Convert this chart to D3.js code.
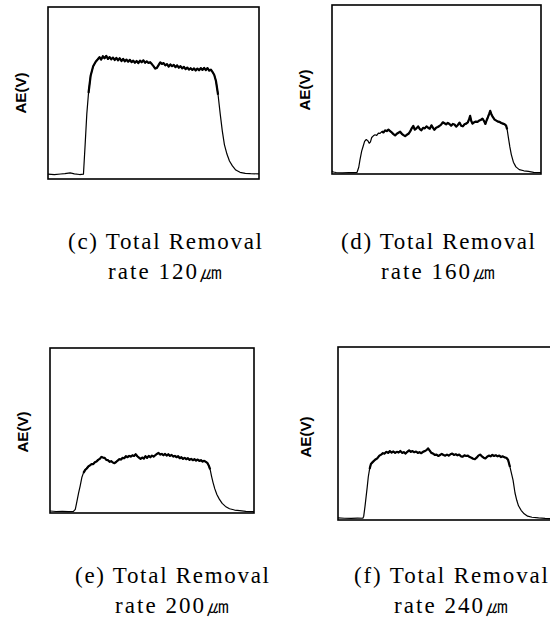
<!DOCTYPE html>
<html>
<head>
<meta charset="utf-8">
<script src="https://cdn.jsdelivr.net/npm/d3@7"></script>
<style>
  body { margin: 0; background: #fff; }
  svg { display: block; }
</style>
</head>
<body>
<div id="chart"></div>
<script>
// AE signal, x = time (0-100 across the frame), y = AE level (0-100 of frame height)
var C_120 = [[0,2.8],[3,2.5],[6,2.9],[8,3.1],[10.5,3.6],[12.5,3.0],[15,2.6],[16.8,2.8],
  [17.6,20],[18.4,38],[19.2,50],[20.2,60],[21.4,65.5],[22.6,68.2],[23.6,69.6],
  [24.4,70.8],[25.2,69.4],[26,71.4],[26.8,70.2],[27.6,71.6],[28.4,69.8],[29.2,70.9],[30,69.6],[30.8,70.6],
  [31.6,69.2],[32.4,70.4],[33.2,69.0],[34,70.2],[34.8,68.6],[35.6,69.8],[36.4,68.4],[37.2,69.4],[38,68.2],
  [38.8,69.3],[39.6,67.9],[40.4,68.8],[41.2,67.6],[42,68.6],[42.8,67.4],[43.6,68.8],[44.4,67.9],[45.2,69.0],
  [46,67.6],[46.8,68.4],[47.6,67.5],[48.4,67.9],[49.2,66.8],[50,65.6],[50.8,64.2],[51.6,64.6],[52.4,66.2],
  [53.2,67.8],[54,66.9],[54.8,67.4],[55.6,66.1],[56.4,66.8],[57.2,65.4],[58,66.6],[58.8,65.6],[59.6,66.3],
  [60.4,65.0],[61.2,66.1],[62,64.7],[62.8,65.6],[63.6,64.3],[64.4,65.2],[65.2,63.9],[66,64.8],[66.8,63.6],
  [67.6,64.4],[68.4,63.4],[69.2,64.3],[70,63.1],[70.8,64.2],[71.6,63.2],[72.4,64.5],[73.2,63.4],[74,64.6],
  [74.8,63.3],[75.6,64.5],[76.4,63.0],[77.2,63.6],[78,62.2],[78.8,60.5],
  [79.6,57],[80.6,49],[81.6,38],[82.6,28],[83.6,20],[84.8,14.5],[86,10.5],[87.4,7.6],[89,5.2],[91,3.9],
  [93.5,3.3],[96,3.1],[100,3.0]];

var D_160 = [[0,1.8],[0.6,1.2],[2,0.9],[5,0.7],[8,0.9],[10.5,0.8],[12,1.0],
  [12.8,4],[13.4,8.5],[14.2,13.5],[14.8,16],[15.6,19.3],[16.4,20.4],[17.2,19.6],[17.8,18.2],[18.4,19.0],
  [19,21.6],[19.8,22.6],[20.6,23.2],[21.4,22.8],[22.2,24.2],[23,24.0],[23.8,25.1],[24.6,24.6],[25.4,25.8],
  [26.2,25.4],[27,26.2],[27.8,25.4],[28.6,24.6],[29.4,23.6],[30.2,22.8],[31,23.8],[31.8,24.4],[32.6,25.0],
  [33.4,23.8],[34.2,23.0],[35,22.4],[35.8,23.2],[36.6,23.8],[37.4,25.2],[38.2,27.2],[38.9,28.4],[39.6,26.2],
  [40.4,27.0],[41.2,28.2],[42,26.6],[42.8,25.9],[43.6,27.3],[44.4,27.0],[45.2,28.2],[46,27.4],[46.8,26.8],
  [47.6,28.8],[48.4,27.2],[49,26.2],[49.8,27.4],[50.6,27.8],[51.4,28.4],[52.2,29.2],[53,30.6],[53.8,30.0],
  [54.6,29.4],[55.4,30.2],[56.2,29.6],[57,28.6],[57.8,29.6],[58.6,29.3],[59.4,28.0],[60.2,29.0],[61,30.4],
  [61.8,28.6],[62.6,28.2],[63.4,29.4],[64.2,29.8],[65,30.6],[65.6,32.5],[66.1,34.4],[66.6,31.5],[67.2,29.8],
  [68,30.6],[68.8,31.0],[69.6,30.8],[70.4,31.6],[71.2,32.0],[72,32.8],[72.8,31.2],[73.4,29.6],[74,31.8],
  [74.6,33.6],[75.2,35.6],[75.7,37.4],[76.3,35.2],[77,33.6],[77.8,32.2],[78.6,31.6],[79.4,31.0],[80.2,30.8],
  [81,30.2],[81.8,29.8],[82.6,29.4],[83.3,28.6],[83.8,26.4],
  [84.4,21.5],[85.1,16],[85.8,11.5],[86.8,7.0],[88,4.2],[89.6,2.6],[91.8,1.9],[94,1.5],[96.5,1.0],[100,0.9]];

var E_200 = [[0,1.2],[3,0.9],[6,1.0],[9,0.8],[11.5,1.0],[12.4,2.2],[13.2,7],[14,12],[14.8,16.5],[15.6,21.5],
  [16.4,24.3],[17.2,26.0],[18,27.0],[18.8,28.2],[19.6,28.9],[20.4,29.7],[21.2,29.6],[22,30.8],[22.8,31.2],
  [23.6,32.2],[24.4,32.8],[25.2,34.0],[26,33.6],[26.8,33.4],[27.6,32.2],[28.4,32.0],[29.2,31.0],[30,31.4],
  [30.8,30.6],[31.6,30.2],[32.4,30.9],[33.2,31.8],[34,32.6],[34.8,32.4],[35.6,33.4],[36.4,33.2],[37.2,34.4],
  [38,33.8],[38.8,34.6],[39.6,34.2],[40.4,35.0],[41.2,34.6],[42,35.6],[42.8,34.4],[43.6,33.6],[44.4,32.8],
  [45.2,33.6],[46,33.0],[46.8,34.4],[47.6,33.4],[48.4,34.6],[49.2,33.8],[50,34.8],[50.8,34.2],[51.6,35.0],
  [52.4,35.8],[53.2,36.4],[54,35.4],[54.8,35.8],[55.6,35.0],[56.4,35.8],[57.2,34.8],[58,35.6],[58.8,34.6],
  [59.6,35.2],[60.4,34.2],[61.2,34.6],[62,33.8],[62.8,34.4],[63.6,33.2],[64.4,33.8],[65.2,32.8],[66,33.4],
  [66.8,32.6],[67.6,33.2],[68.4,32.2],[69.2,32.8],[70,32.0],[70.8,32.6],[71.6,31.8],[72.4,32.4],[73.2,31.6],
  [74,32.0],[74.8,31.2],[75.6,31.6],[76.4,31.0],[77.1,30.4],
  [77.8,28.8],[78.5,26.4],[79.2,22.2],[79.9,18.6],[80.8,14.6],[81.8,11.2],[83,8.4],[84.4,5.8],[86,4.0],
  [88,2.6],[90.5,1.8],[93,1.4],[96,1.0],[100,0.8]];

var F_240 = [[0,1.2],[3,1.0],[6,0.9],[9,1.1],[11.4,1.0],[11.8,2.2],[12.4,8],[12.9,13.5],[13.4,19],[13.9,25],
  [14.5,29.5],[15.1,32.4],[16,33.6],[17,34.8],[18,35.6],[19,37.2],[19.8,37.8],[20.6,38.6],[21.4,38.4],
  [22.2,39.4],[23,38.8],[23.8,39.8],[24.6,39.0],[25.4,39.6],[26.2,38.8],[27,39.4],[27.8,39.0],[28.6,39.9],
  [29.4,38.8],[30.2,39.2],[31,38.4],[31.8,39.4],[32.6,40.2],[33.4,39.4],[34.2,39.8],[35,39.2],[35.8,39.6],
  [36.6,38.8],[37.4,39.2],[38.2,38.6],[39,39.4],[39.8,39.8],[40.6,40.4],[41.3,41.4],[42,40.2],[42.8,38.8],
  [43.6,38.4],[44.4,37.6],[45.2,37.8],[46,37.0],[46.8,37.6],[47.6,38.2],[48.4,37.6],[49.2,37.2],[50,37.8],
  [50.8,37.2],[51.6,38.0],[52.4,38.4],[53.2,37.6],[54,38.0],[54.8,37.4],[55.6,37.8],[56.4,36.8],[57.2,36.6],
  [58,37.4],[58.8,37.0],[59.6,37.2],[60.4,36.4],[61.2,36.0],[62,35.4],[62.8,35.2],[63.6,36.0],[64.4,37.2],
  [65.2,37.8],[66,36.8],[66.8,36.0],[67.6,35.6],[68.4,36.6],[69.2,37.2],[70,36.8],[70.8,37.6],[71.6,37.0],
  [72.4,37.4],[73.2,36.8],[74,37.2],[74.8,36.4],[75.6,36.8],[76.4,36.2],[77.2,36.0],[78,34.8],
  [78.9,30.6],[79.6,26.8],[80.3,23.1],[81.2,15.6],[82,11.4],[82.8,8.2],[84,5.6],[85.4,3.6],[87,2.2],
  [89,1.6],[92,1.2],[95,0.9],[100,0.6]];

var SERIES = [C_120, D_160, E_200, F_240];
var LETTERS = ["(c)", "(d)", "(e)", "(f)"];
var RATES = ["120", "160", "200", "240"];
var Y_LABEL = "AE(V)";

// frame of each panel on the page, plus label / caption anchors
var PANELS = [
  {x0: 48,  x1: 259, y0: 7,   y1: 179, lx: 21,  ly: 93,  cx: 165, b1: 249, b2: 279},
  {x0: 332, x1: 541, y0: 5,   y1: 174, lx: 305, ly: 90,  cx: 438, b1: 249, b2: 279},
  {x0: 50,  x1: 254, y0: 348, y1: 513, lx: 23,  ly: 432, cx: 172, b1: 583, b2: 613},
  {x0: 338, x1: 556, y0: 347, y1: 520, lx: 306, ly: 437, cx: 451, b1: 583, b2: 613}
];

var svg = d3.select("#chart").append("svg")
  .attr("width", 550)
  .attr("height", 624);

function drawPanel(i) {
  var p = PANELS[i];
  var data = SERIES[i];
  var x = d3.scaleLinear().domain([0, 100]).range([p.x0, p.x1]);
  var y = d3.scaleLinear().domain([0, 100]).range([p.y1, p.y0]);
  var g = svg.append("g");

  g.append("rect")
    .attr("x", x(0)).attr("y", y(100))
    .attr("width", x(100) - x(0)).attr("height", y(0) - y(100))
    .attr("fill", "none").attr("stroke", "#000").attr("stroke-width", 1.6);

  var line = d3.line()
    .x(function(d) { return x(d[0]); })
    .y(function(d) { return y(d[1]); });

  g.append("path")
    .datum(data)
    .attr("d", line)
    .attr("fill", "none")
    .attr("stroke", "#000")
    .attr("stroke-width", 1.2)
    .attr("stroke-linejoin", "round");

  // the noisy "on" part of the signal reads as a heavier band
  var top = d3.max(data, function(d) { return d[1]; });
  var on = data.filter(function(d) { return d[1] > top * 0.65; });
  var first = data.indexOf(on[0]), last = data.indexOf(on[on.length - 1]);
  g.append("path")
    .datum(data.slice(first, last + 1))
    .attr("d", line)
    .attr("fill", "none")
    .attr("stroke", "#000")
    .attr("stroke-width", 2.2)
    .attr("stroke-linejoin", "round");

  g.append("text")
    .attr("transform", "translate(" + p.lx + "," + p.ly + ") rotate(-90)")
    .attr("text-anchor", "middle")
    .attr("dy", "0.36em")
    .attr("textLength", 41)
    .attr("lengthAdjust", "spacingAndGlyphs")
    .style("font-family", "'Liberation Sans', Arial, sans-serif")
    .style("font-weight", "bold")
    .style("font-size", "14px")
    .text(Y_LABEL);

  g.append("text")
    .attr("x", p.cx).attr("y", p.b1)
    .attr("text-anchor", "middle")
    .attr("textLength", 194)
    .attr("lengthAdjust", "spacing")
    .style("font-family", "'Liberation Serif', 'DejaVu Serif', serif")
    .style("font-size", "23px")
    .text(LETTERS[i] + " Total Removal");

  g.append("text")
    .attr("x", p.cx).attr("y", p.b2)
    .attr("text-anchor", "middle")
    .attr("textLength", 114)
    .attr("lengthAdjust", "spacing")
    .style("font-family", "'Liberation Serif', 'DejaVu Serif', serif")
    .style("font-size", "23px")
    .text("rate " + RATES[i] + "\u339B");
}

for (var i = 0; i < SERIES.length; i++) {
  drawPanel(i);
}
</script>
</body>
</html>
